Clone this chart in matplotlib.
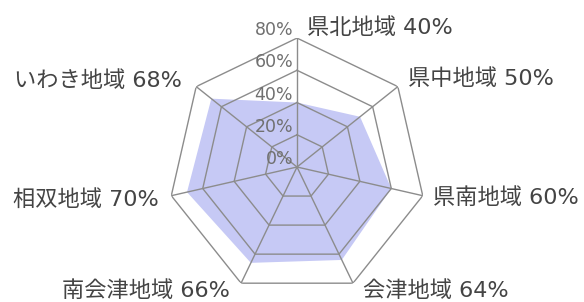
import numpy as np
import matplotlib
matplotlib.use("Agg")
import matplotlib.pyplot as plt

plt.rcParams['font.family'] = ['DejaVu Sans', 'Noto Sans CJK JP']

# data
regions = ["県北地域", "県中地域", "県南地域", "会津地域", "南会津地域", "相双地域", "いわき地域"]
values = [40, 50, 60, 64, 66, 70, 68]
ring_levels = [20, 40, 60, 80]
tick_levels = [0, 20, 40, 60, 80]

# label offsets from outer vertex, in pixels (layout only)
label_offsets = [(10, 10), (10, 8), (10, -2), (10, -7), (-11, -7), (-13, -4), (-14, 6)]

n = len(regions)
theta = np.arange(n) * 2 * np.pi / n
theta_closed = np.append(theta, theta[0])

fig = plt.figure(figsize=(5.84, 3.02), dpi=100)
ax = fig.add_axes([0.2877, 0.020, 0.4418, 0.854], projection='polar')
ax.set_theta_offset(np.pi / 2)
ax.set_theta_direction(-1)
ax.set_ylim(0, 80)
ax.axis('off')

grid_color = '#8c8c8c'

# data fill
vals_closed = np.append(values, values[0])
ax.fill(theta_closed, vals_closed, color='#c6c9f5', lw=0, zorder=1)

# polygon rings
for lv in ring_levels:
    ax.plot(theta_closed, [lv] * (n + 1), color=grid_color, lw=1.0, zorder=2)

# spokes
for t in theta:
    ax.plot([t, t], [0, 80], color=grid_color, lw=1.0, zorder=2)

# tick labels along top spoke
for lv in tick_levels:
    ax.annotate(f"{lv}%", xy=(0, lv), xytext=(-4, 8), textcoords='offset pixels',
                ha='right', va='center', fontsize=12.5, color='#707070', zorder=3)

# category labels
for k in range(n):
    dx, dy = label_offsets[k]
    ax.annotate(f"{regions[k]} {values[k]}%", xy=(theta[k], 80), xytext=(dx, dy),
                textcoords='offset pixels', ha='left' if dx > 0 else 'right',
                va='center', fontsize=16, color='#444444', annotation_clip=False)

fig.savefig("out.png", dpi=100)
